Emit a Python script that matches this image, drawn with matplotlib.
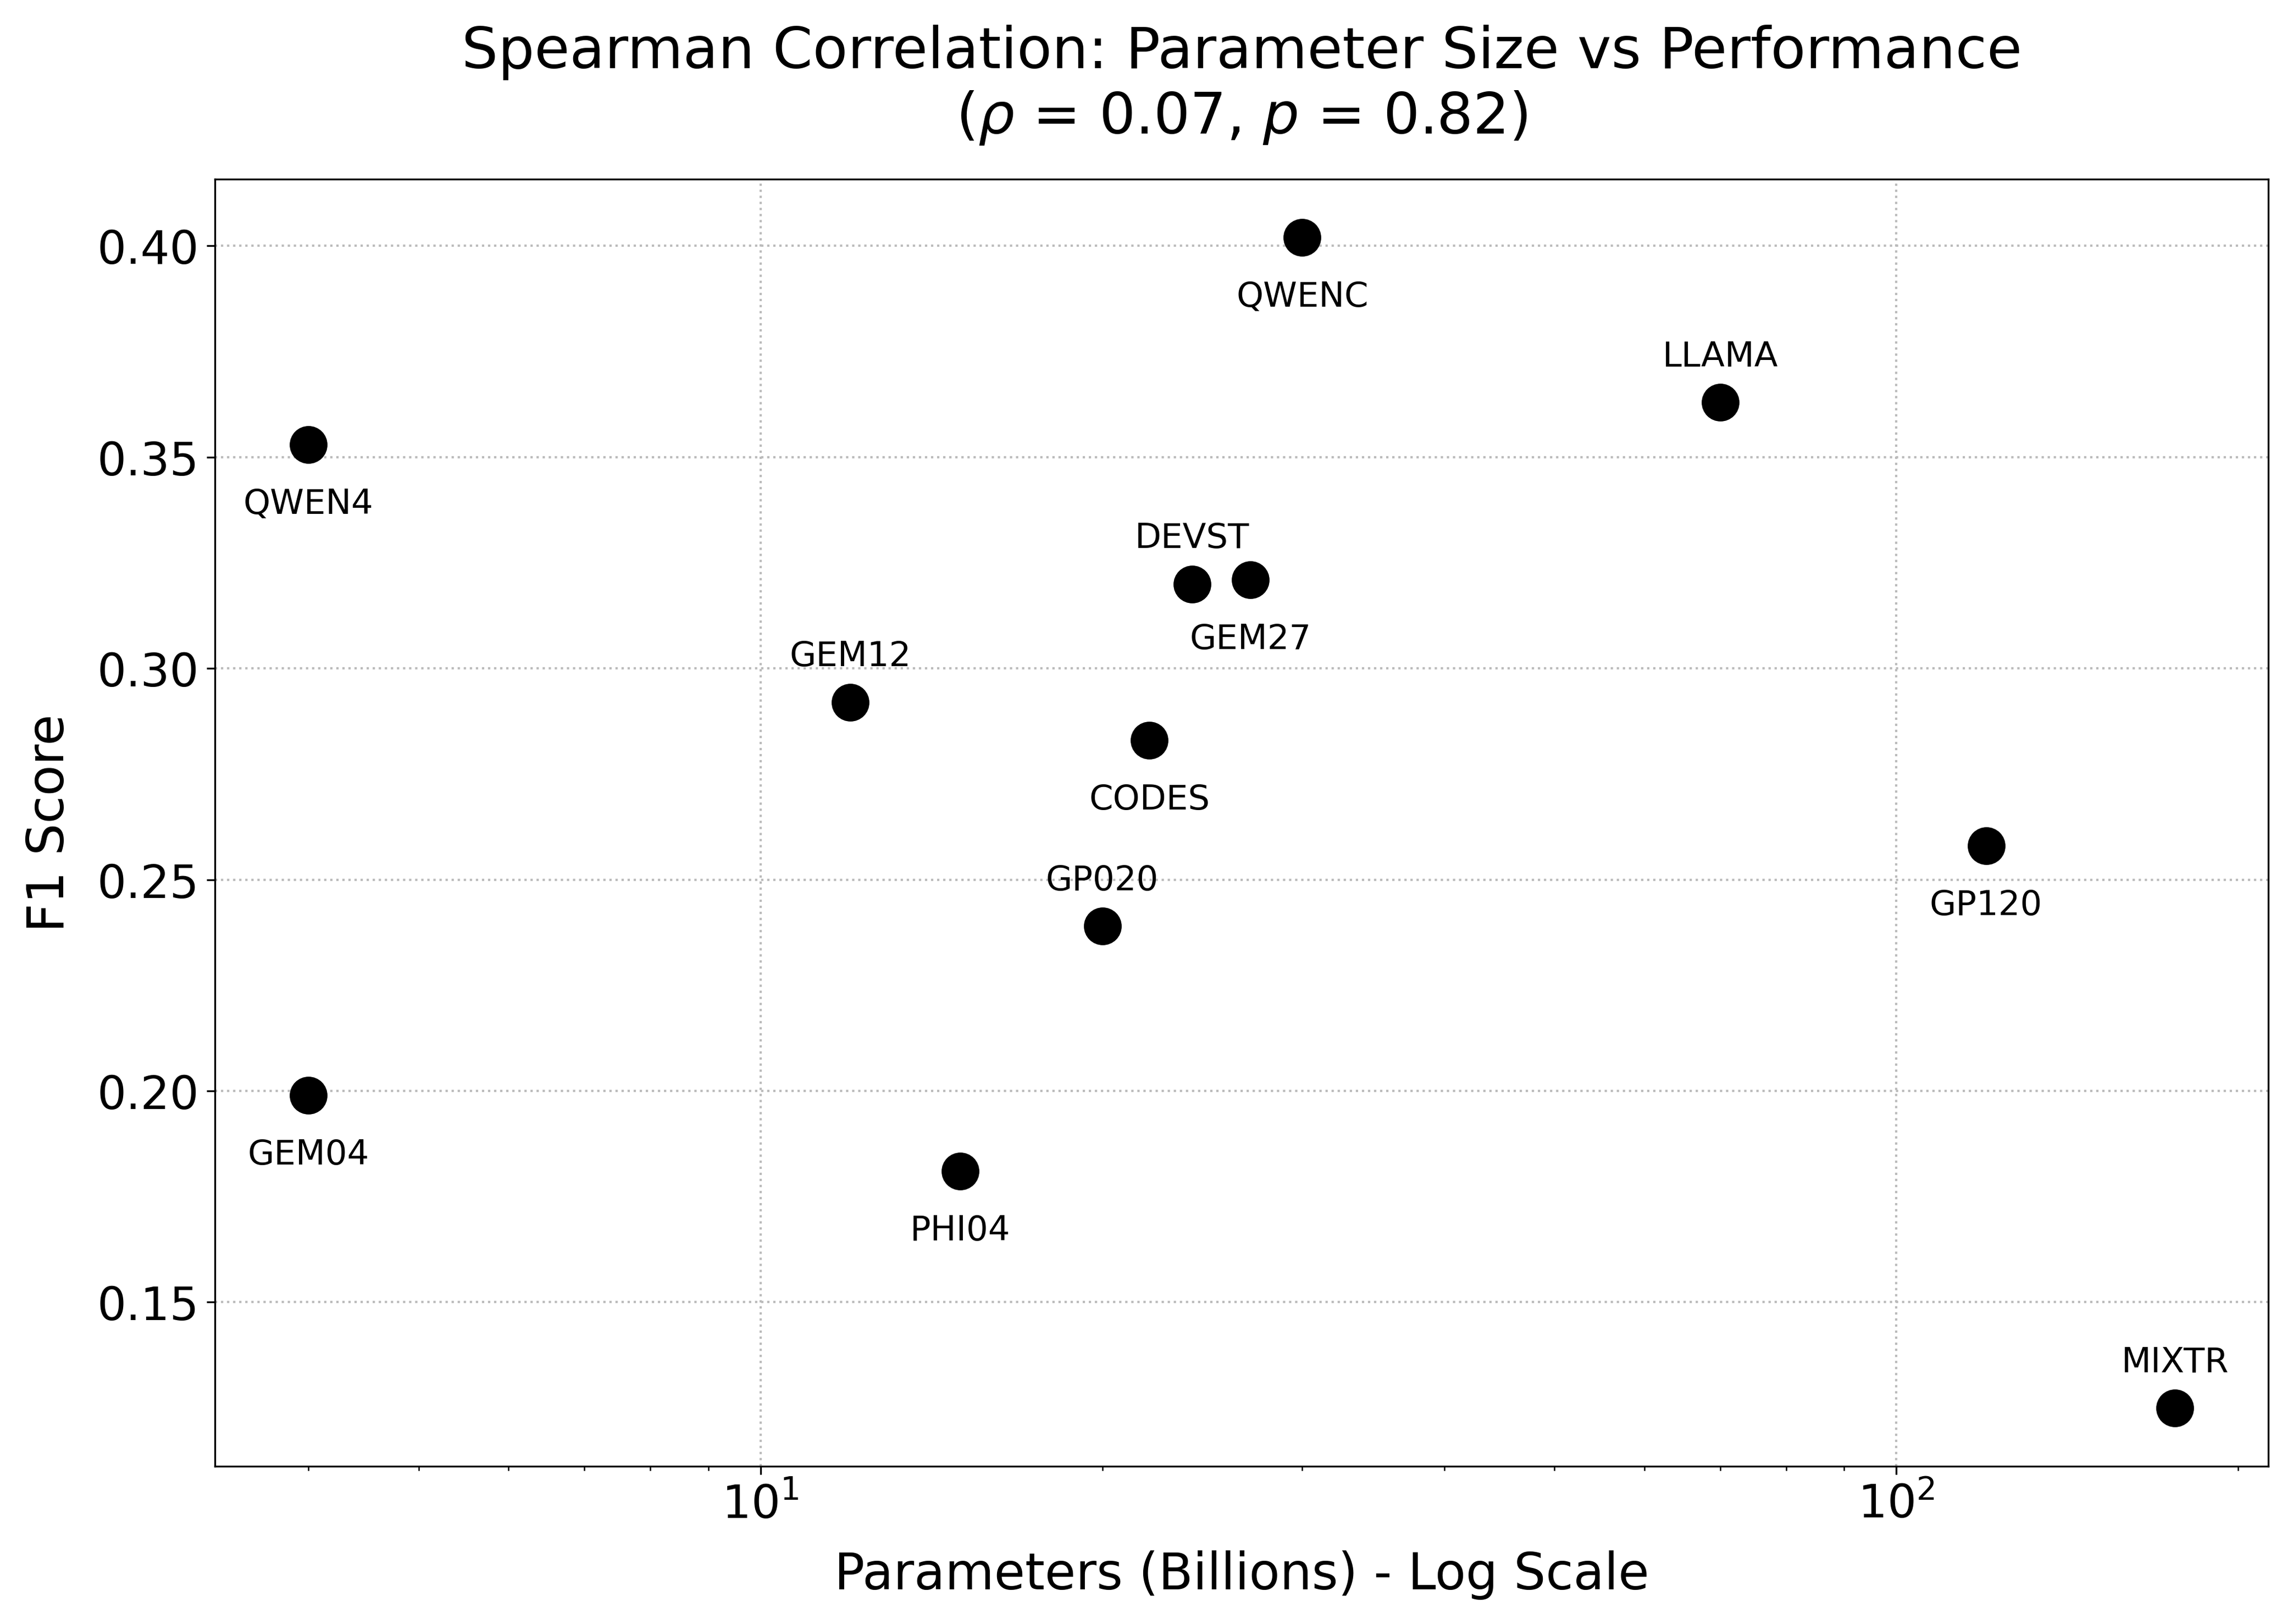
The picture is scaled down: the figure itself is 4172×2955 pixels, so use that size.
import matplotlib
matplotlib.use('Agg')
import matplotlib.pyplot as plt

# Model data #

models = ['QWEN4', 'GEM04', 'GEM12', 'PHI04', 'GP020', 'CODES',
          'DEVST', 'GEM27', 'QWENC', 'LLAMA', 'GP120', 'MIXTR']
params = [4, 4, 12, 15, 20, 22, 24, 27, 30, 70, 120, 176]
f1 = [0.353, 0.199, 0.292, 0.181, 0.239, 0.283,
      0.320, 0.321, 0.402, 0.363, 0.258, 0.125]
label_pos = ['below', 'below', 'above', 'below', 'above', 'below',
             'above', 'below', 'below', 'above', 'below', 'above']

rho = 0.07
pval = 0.82

fig, ax = plt.subplots(figsize=(13.907, 9.853), dpi=300)

ax.scatter(params, f1, s=240, color='black', zorder=3)
ax.set_xscale('log')

## Point labels
for name, x, y, pos in zip(models, params, f1, label_pos):
    dy = 20 if pos == 'above' else -26
    ax.annotate(name, (x, y), xytext=(0, dy), textcoords='offset points',
                ha='center', va='center', fontsize=15)

ax.set_xlabel('Parameters (Billions) - Log Scale', fontsize=22, labelpad=10)
ax.set_ylabel('F1 Score', fontsize=22, labelpad=10)
ax.set_title('Spearman Correlation: Parameter Size vs Performance\n'
             f'($\\rho$ = {rho:.2f}, $p$ = {pval:.2f})', fontsize=25, pad=20)
ax.tick_params(axis='both', which='major', labelsize=20)
ax.grid(True, which='major', linestyle=':', color='#bbbbbb', linewidth=1)

plt.tight_layout()
plt.savefig('out.png', dpi=300)
